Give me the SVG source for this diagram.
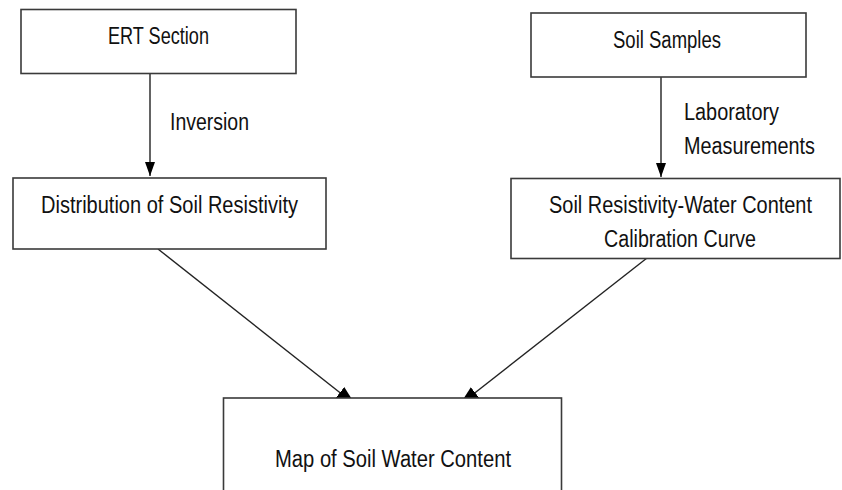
<svg xmlns="http://www.w3.org/2000/svg" width="842" height="490" viewBox="0 0 842 490">
<defs>
<style>
.box{fill:#fff;stroke:#3a3a3a;stroke-width:1.6}
.lbl{font-family:"Liberation Sans",Arial,sans-serif;font-size:23.5px;fill:#111;text-anchor:middle}
.edge{stroke:#222;stroke-width:1.4;fill:none}
.v{marker-end:url(#ahv)}
.d{marker-end:url(#ahd)}
</style>
<marker id="ahv" viewBox="0 0 14 10" refX="14" refY="5" markerWidth="14" markerHeight="10" markerUnits="userSpaceOnUse" orient="auto">
<path d="M0,0 L14,5 L0,10 z" fill="#000"/>
</marker>
<marker id="ahd" viewBox="0 0 20 14" refX="20" refY="7" markerWidth="20" markerHeight="14" markerUnits="userSpaceOnUse" orient="auto">
<path d="M0,0 L20,7 L0,14 z" fill="#000"/>
</marker>
</defs>
<rect width="842" height="490" fill="#fff"/>
<g id="connectors">
<path class="edge v" d="M150,73 L150,176"/>
<path class="edge v" d="M661,77 L661,177"/>
<path class="edge d" d="M158,249 L355.6,405"/>
<path class="edge d" d="M647,258 L459.4,405"/>
<text class="lbl" x="209.5" y="130" textLength="79" lengthAdjust="spacingAndGlyphs">Inversion</text>
<text class="lbl" x="731.5" y="120" textLength="95" lengthAdjust="spacingAndGlyphs">Laboratory</text>
<text class="lbl" x="749.5" y="154" textLength="131" lengthAdjust="spacingAndGlyphs">Measurements</text>
</g>
<g id="node-ert">
<rect class="box" x="21" y="9.5" width="275" height="64"/>
<text class="lbl" x="158.5" y="44" textLength="101" lengthAdjust="spacingAndGlyphs">ERT Section</text>
</g>
<g id="node-soil-samples">
<rect class="box" x="531" y="13" width="275" height="64"/>
<text class="lbl" x="667" y="48" textLength="108" lengthAdjust="spacingAndGlyphs">Soil Samples</text>
</g>
<g id="node-distribution">
<rect class="box" x="13" y="178" width="313" height="71"/>
<text class="lbl" x="169.5" y="213" textLength="257" lengthAdjust="spacingAndGlyphs">Distribution of Soil Resistivity</text>
</g>
<g id="node-calibration">
<rect class="box" x="511" y="178.5" width="329" height="80"/>
<text class="lbl" x="680.5" y="213" textLength="263" lengthAdjust="spacingAndGlyphs">Soil Resistivity-Water Content</text>
<text class="lbl" x="680" y="246.5" textLength="152" lengthAdjust="spacingAndGlyphs">Calibration Curve</text>
</g>
<g id="node-map">
<rect class="box" x="223.5" y="398" width="338" height="100"/>
<text class="lbl" x="393" y="467" textLength="236" lengthAdjust="spacingAndGlyphs">Map of Soil Water Content</text>
</g>
</svg>
